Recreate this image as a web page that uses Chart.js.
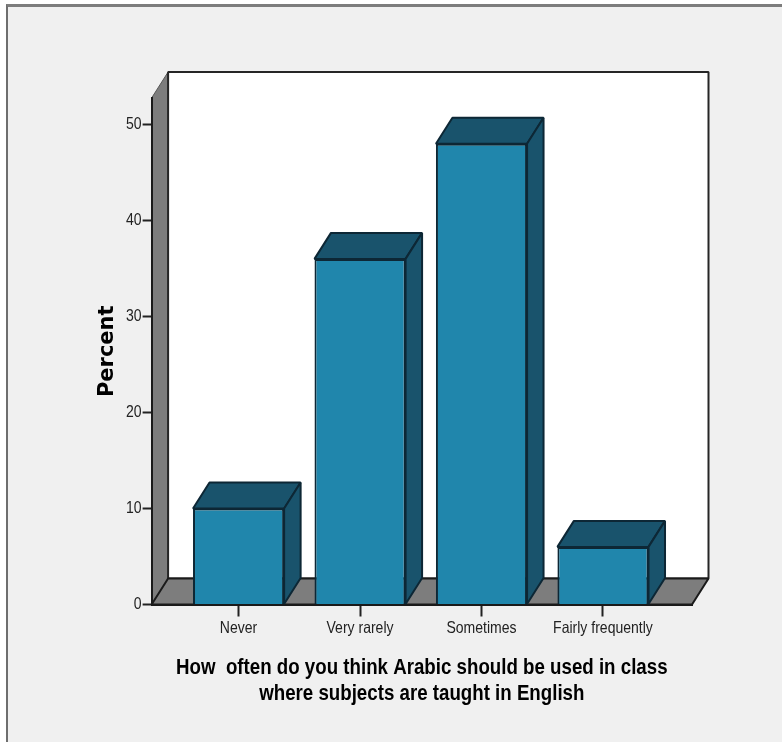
<!DOCTYPE html>
<html>
<head>
<meta charset="utf-8">
<title>Arabic in class</title>
<script src="https://cdn.jsdelivr.net/npm/chart.js@4"></script>
<style>
    html, body { margin: 0; padding: 0; background: #ffffff; }
    #frame {
        position: absolute; left: 6px; top: 4px; width: 776px; height: 738px;
        box-sizing: border-box; background: #f0f0f0;
        border-top: 3px solid #7d7d7d; border-left: 2px solid #6e6e6e;
    }
    #wrap { position: absolute; left: 0; top: 0; width: 782px; height: 742px; }
</style>
</head>
<body>
<div id="frame"></div>
<div id="wrap"><canvas id="percentChart" width="782" height="742"></canvas></div>
<script>
const categories = ['Never', 'Very rarely', 'Sometimes', 'Fairly frequently'];
const percents = [10, 36, 48, 6];
const yTicks = [0, 10, 20, 30, 40, 50];
const yTitle = 'Percent';
const xTitle = ['How  often do you think Arabic should be used in class', 'where subjects are taught in English'];

// depth of the 3D box, in pixels
const DEPTH_X = 16.5;
const DEPTH_Y = 26;
// no narrow font here, so Liberation Sans gets squeezed when it is drawn
const NARROW = 0.85;

function poly(ctx, pts, fill, stroke, lw) {
    ctx.beginPath();
    pts.forEach((p, i) => i ? ctx.lineTo(p[0], p[1]) : ctx.moveTo(p[0], p[1]));
    ctx.closePath();
    if (fill) { ctx.fillStyle = fill; ctx.fill(); }
    ctx.strokeStyle = stroke;
    ctx.lineWidth = lw;
    ctx.lineJoin = 'bevel';
    ctx.stroke();
}

const box3d = {
    id: 'box3d',
    // side wall, floor and back wall, under the axes
    beforeDraw(chart) {
        const { ctx, chartArea: a } = chart;
        const dx = DEPTH_X, dy = DEPTH_Y;
        ctx.save();
        poly(ctx, [[a.left, a.top], [a.left + dx, a.top - dy], [a.left + dx, a.bottom - dy], [a.left, a.bottom]], '#7d7d7d', '#555555', 1);
        poly(ctx, [[a.left + dx, a.top - dy], [a.right + dx, a.top - dy], [a.right + dx, a.bottom - dy], [a.left + dx, a.bottom - dy]], '#ffffff', '#262626', 2);
        poly(ctx, [[a.left, a.bottom], [a.left + dx, a.bottom - dy], [a.right + dx, a.bottom - dy], [a.right, a.bottom]], '#7d7d7d', '#1a1a1a', 2);
        ctx.restore();
    },
    // top and side faces of each bar
    afterDatasetsDraw(chart) {
        const { ctx } = chart;
        const dx = DEPTH_X, dy = DEPTH_Y;
        ctx.save();
        chart.getDatasetMeta(0).data.forEach(bar => {
            const l = bar.x - bar.width / 2, r = bar.x + bar.width / 2;
            poly(ctx, [[l, bar.y], [l + dx, bar.y - dy], [r + dx, bar.y - dy], [r, bar.y]], '#19536c', '#0d2735', 2);
            poly(ctx, [[r, bar.y], [r + dx, bar.y - dy], [r + dx, bar.base - dy], [r, bar.base]], '#19536c', '#0d2735', 2);
        });
        ctx.restore();
    }
};

const ctx = document.getElementById('percentChart').getContext('2d');

const plainFillText = ctx.fillText.bind(ctx);
ctx.fillText = (text, x, y) => {
    if (ctx.font.includes('DejaVu')) {
        plainFillText(text, x, y);
        return;
    }
    ctx.save();
    ctx.translate(x, y);
    ctx.scale(NARROW, 1);
    plainFillText(text, 0, 0);
    ctx.restore();
};

const tickFont = { family: '"Liberation Sans", sans-serif', size: 16.5 };

new Chart(ctx, {
    type: 'bar',
    data: {
        // bars sit on a numeric x axis so they can keep a margin inside the floor
        datasets: [{
            data: percents.map((v, i) => ({ x: i, y: v })),
            backgroundColor: '#2086ac',
            borderColor: '#0d2735',
            borderWidth: 2,
            barPercentage: 0.75,
            categoryPercentage: 1
        }]
    },
    options: {
        responsive: false,
        animation: false,
        layout: { padding: { left: 95, right: 90, top: 98, bottom: 30 } },
        plugins: { legend: { display: false }, tooltip: { enabled: false } },
        scales: {
            x: {
                type: 'linear',
                offset: false,
                min: -0.716,
                max: 3.733,
                afterBuildTicks: scale => { scale.ticks = categories.map((c, i) => ({ value: i })); },
                afterFit: scale => { scale.height = 107.5; },
                grid: { offset: false, drawOnChartArea: false, tickLength: 12, tickColor: '#222222', tickWidth: 2 },
                border: { color: '#1a1a1a', width: 2 },
                ticks: {
                    autoSkip: false, maxRotation: 0, padding: 2,
                    color: '#222222', font: tickFont,
                    callback: value => categories[value]
                },
                title: {
                    display: true, text: xTitle, color: '#000000',
                    font: { family: '"Liberation Sans", sans-serif', size: 22, weight: 'bold', lineHeight: 1.14 },
                    padding: { top: 0, bottom: 6 }
                }
            },
            y: {
                min: 0,
                max: 52.76,
                afterBuildTicks: scale => { scale.ticks = yTicks.map(v => ({ value: v })); },
                afterFit: scale => { scale.width = 56.6; },
                grid: { drawOnChartArea: false, tickLength: 9, tickColor: '#222222', tickWidth: 2 },
                border: { color: '#1a1a1a', width: 2 },
                ticks: { padding: 1, color: '#222222', font: tickFont },
                title: {
                    display: true, text: yTitle, color: '#000000',
                    font: { family: '"DejaVu Sans", sans-serif', size: 21, weight: 'bold' },
                    padding: 0
                }
            }
        }
    },
    plugins: [box3d]
});
</script>
</body>
</html>
